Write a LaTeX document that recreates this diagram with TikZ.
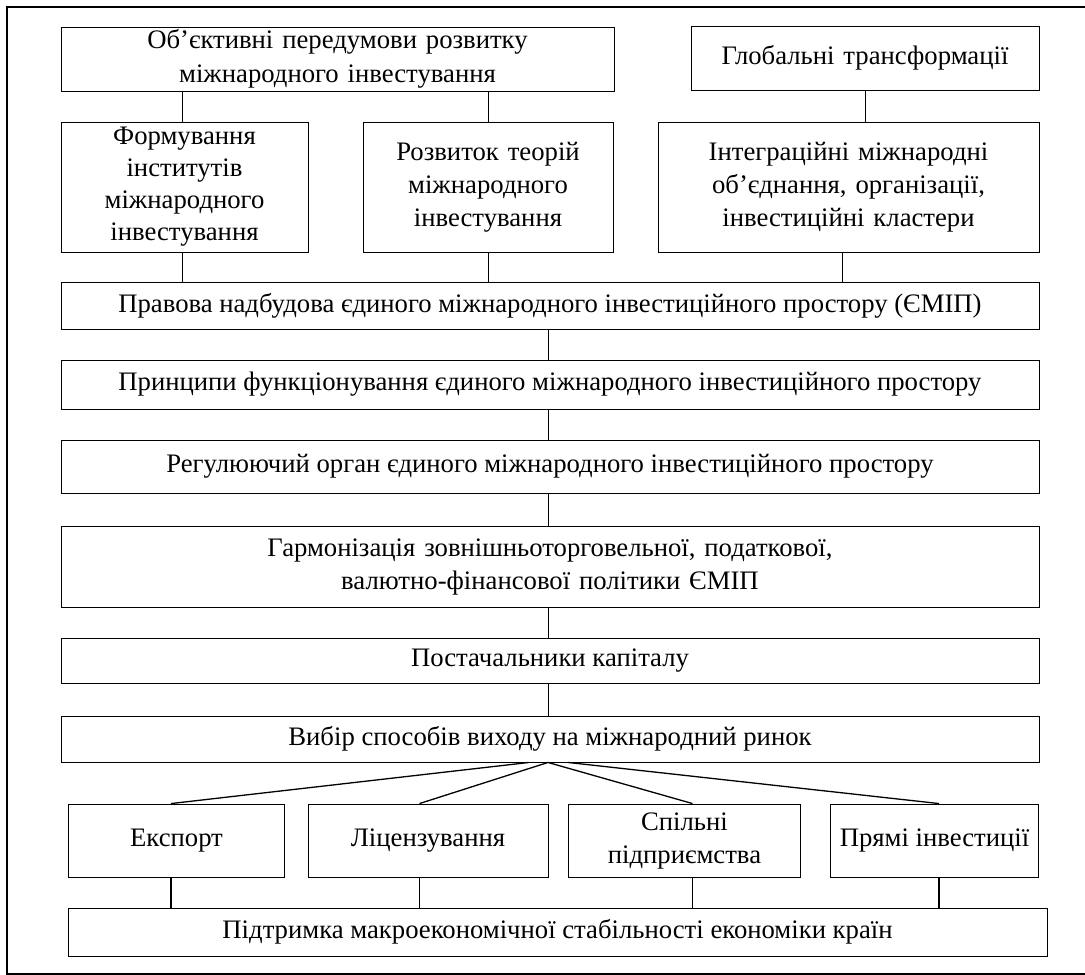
\documentclass[tikz,border=0pt]{standalone}
\usepackage{fontspec}
\setmainfont{Liberation Serif}
\begin{document}
\begin{tikzpicture}[x=1pt,y=-1pt,
  box/.style={draw=black,line width=0.9pt,inner sep=0pt,align=center,
    font=\fontsize{26.7}{30}\selectfont},
  link/.style={draw=black,line width=1pt},
  fan/.style={draw=black,line width=1.3pt}]
\useasboundingbox (0,0) rectangle (1085,975);
\clip (0,0) rectangle (1085,975);
% outer frame (right side cut off by the page)
\draw[line width=1.8pt] (1100,7) -- (7,7) -- (7,974) -- (1100,974);

\node[box,minimum width=553,minimum height=64,text width=540] (obj) at (337.5,59)
  {Об’єктивні передумови розвитку\\[4pt]міжнародного інвестування};
\node[box,minimum width=348,minimum height=64,text width=340] (glob) at (865,58)
  {Глобальні трансформації};
\node[box,minimum width=247,minimum height=130,text width=240] (form) at (184.5,187)
  {Формування\\[2pt]інститутів\\[2pt]міжнародного\\[2pt]інвестування};
\node[box,minimum width=250,minimum height=130,text width=244] (rozv) at (488,187)
  {Розвиток теорій\\[3pt]міжнародного\\[3pt]інвестування};
\node[box,minimum width=381,minimum height=130,text width=370] (integ) at (848.5,187)
  {Інтеграційні міжнародні\\[3pt]об’єднання, організації,\\[3pt]інвестиційні кластери};
\node[box,minimum width=978,minimum height=47] (prav) at (550,305.5)
  {Правова надбудова єдиного міжнародного інвестиційного простору (ЄМІП)};
\node[box,minimum width=978,minimum height=49] (pryn) at (550,384.5)
  {Принципи функціонування єдиного міжнародного інвестиційного простору};
\node[box,minimum width=978,minimum height=53] (reg) at (550,466.5)
  {Регулюючий орган єдиного міжнародного інвестиційного простору};
\node[box,minimum width=978,minimum height=81,text width=960] (harm) at (550,566.5)
  {Гармонізація зовнішньоторговельної, податкової,\\[3pt]валютно-фінансової політики ЄМІП};
\node[box,minimum width=978,minimum height=45] (post) at (550,660.5)
  {Постачальники капіталу};
\node[box,minimum width=978,minimum height=46] (vyb) at (550,739)
  {Вибір способів виходу на міжнародний ринок};
\node[box,minimum width=216,minimum height=73] (exp) at (176.5,840.5)
  {Експорт};
\node[box,minimum width=240,minimum height=73] (lic) at (428,840.5)
  {Ліцензування};
\node[box,minimum width=232,minimum height=73,text width=226] (spil) at (684.5,840.5)
  {Спільні\\[3pt]підприємства};
\node[box,minimum width=208,minimum height=73] (pryam) at (934.5,840.5)
  {Прямі інвестиції};
\node[box,minimum width=979,minimum height=48] (pidt) at (557.5,932)
  {Підтримка макроекономічної стабільності економіки країн};

% upper connectors
\draw[link] ([xshift=-2.5pt]form.north) -- ([xshift=-2.5pt]form.north |- obj.south);
\draw[link] (rozv.north) -- (rozv.north |- obj.south);
\draw[link] (glob.south) -- (glob.south |- integ.north);
\draw[link] ([xshift=-2.5pt]form.south) -- ([xshift=-2.5pt]form.south |- prav.north);
\draw[link] (rozv.south) -- (rozv.south |- prav.north);
\draw[link] ([xshift=-6.5pt]integ.south) -- ([xshift=-6.5pt]integ.south |- prav.north);
% central spine
\draw[link] ([xshift=-2pt]prav.south) -- ([xshift=-2pt]pryn.north);
\draw[link] ([xshift=-2pt]pryn.south) -- ([xshift=-2pt]reg.north);
\draw[link] ([xshift=-2pt]reg.south) -- ([xshift=-2pt]harm.north);
\draw[link] ([xshift=-2pt]harm.south) -- ([xshift=-2pt]post.north);
\draw[link] ([xshift=-2pt]post.south) -- ([xshift=-2pt]vyb.north);
% fan
\draw[fan] ([xshift=-21pt]vyb.south) -- ([xshift=-5.5pt]exp.north);
\draw[fan] ([xshift=-2pt]vyb.south) -- ([xshift=-8.5pt]lic.north);
\draw[fan] ([xshift=-2pt]vyb.south) -- ([xshift=8pt]spil.north);
\draw[fan] ([xshift=18pt]vyb.south) -- ([xshift=4.5pt]pryam.north);
% bottom connectors
\draw[fan] ([xshift=-5.5pt]exp.south) -- ([xshift=-5.5pt]exp.south |- pidt.north);
\draw[fan] ([xshift=-8.5pt]lic.south) -- ([xshift=-8.5pt]lic.south |- pidt.north);
\draw[fan] ([xshift=8pt]spil.south) -- ([xshift=8pt]spil.south |- pidt.north);
\draw[fan] ([xshift=4.5pt]pryam.south) -- ([xshift=4.5pt]pryam.south |- pidt.north);
\end{tikzpicture}
\end{document}
